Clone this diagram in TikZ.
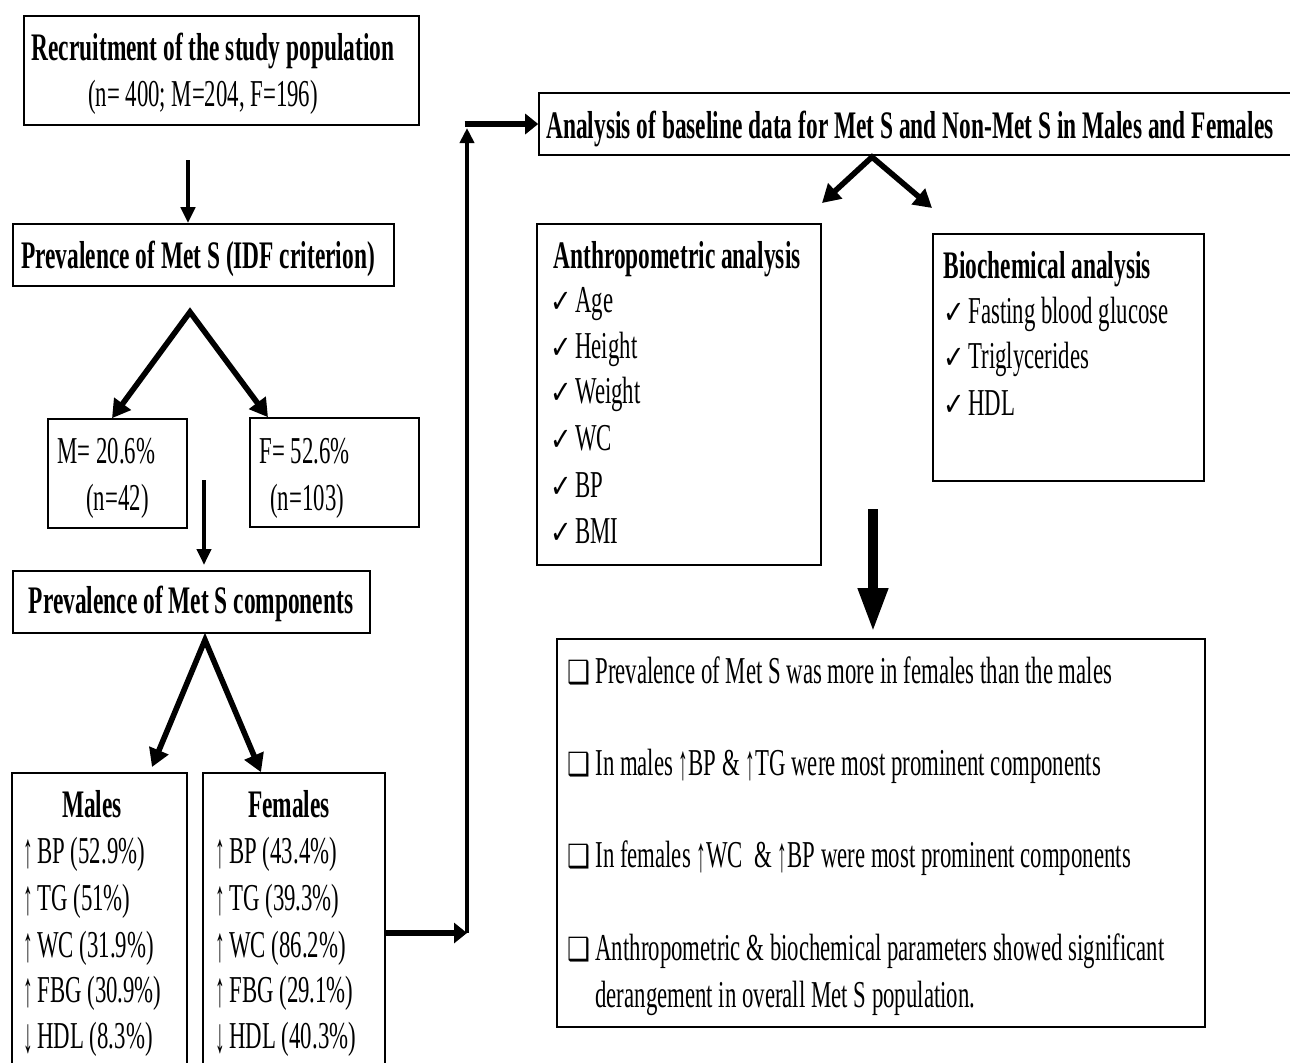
\documentclass[tikz,border=0pt]{standalone}
\usepackage{fontspec}
\usepackage{graphicx}
\setmainfont{Liberation Serif}[FakeStretch=0.6]
\newfontfamily\symf{DejaVu Sans}[FakeStretch=0.8]
\usetikzlibrary{arrows.meta,fit}
\newcommand\tarr[1]{\raisebox{-0.12em}{\scalebox{0.85}[1.3]{#1}}}
\newcommand\upa{\makebox[7pt][l]{\tarr{↑}}}
\newcommand\dna{\makebox[7pt][l]{\tarr{↓}}}
\newcommand\chk{\makebox[12.5pt][l]{\symf\fontsize{16}{18}\selectfont ✓}}
\newcommand\sqb{\makebox[14pt][l]{\symf\fontsize{16}{18}\selectfont ❑}}
\begin{document}
\begin{tikzpicture}[x=0.5pt,y=-0.5pt,
  box/.style={draw,line width=0.8pt,inner sep=0pt},
  reg/.style={inner sep=0pt,font=\fontsize{19}{22}\selectfont},
  ttl/.style={inner sep=0pt,font=\fontsize{19.5}{22}\selectfont\bfseries},
  thinarr/.style={line width=2pt,-{Triangle[length=8pt,width=7pt]}},
  fork/.style={line width=2.8pt,line join=miter,{Triangle[length=9pt,width=10pt]}-{Triangle[length=9pt,width=10pt]}},
  conh/.style={line width=3pt,-{Triangle[length=6.5pt,width=10pt]}},
  conv/.style={line width=2.4pt,-{Triangle[length=7.5pt,width=7pt]}},
  bigarr/.style={line width=5pt,-{Triangle[length=22pt,width=14pt]}}]
\useasboundingbox (0,0) rectangle (1290,1062);
\fill[white] (0,0) rectangle (1290,1062);

% boxes
\node[box,fit={(24,16) (419,125)}] (R) {};
\node[box,fit={(13,224) (394,286)}] (P) {};
\node[box,fit={(48,419) (187,528)}] (M) {};
\node[box,fit={(250,418) (419,527)}] (F) {};
\node[box,fit={(13,571) (370,633)}] (C) {};
\node[box,fit={(12,773) (187,1080)}] (Ma) {};
\node[box,fit={(203,773) (385,1080)}] (Fe) {};
\node[box,fit={(539,93) (1300,155)}] (A) {};
\node[box,fit={(537,224) (821,565)}] (An) {};
\node[box,fit={(933,234) (1204,481)}] (B) {};
\node[box,fit={(557,639) (1205,1027)}] (Co) {};

% texts left column
\node[ttl,anchor=base] (Rt1) at (213,60) {Recruitment of the study population};
\node[reg,anchor=base] (Rt2) at (203,106) {(n= 400; M=204, F=196)};
\node[ttl,anchor=base] (Pt) at (198,268) {Prevalence of Met S (IDF criterion)};
\node[reg,anchor=base west] (Mt1) at (57,463) {M= 20.6\%};
\node[reg,anchor=base west] (Mt2) at (86,510) {(n=42)};
\node[reg,anchor=base west] (Ft1) at (259,463) {F= 52.6\%};
\node[reg,anchor=base west] (Ft2) at (270,510) {(n=103)};
\node[ttl,anchor=base] (Ct) at (191,613) {Prevalence of Met S components};

\node[ttl,anchor=base] (Mah) at (92,817) {Males};
\node[reg,anchor=base west] (Ma1) at (23,863) {\upa BP (52.9\%)};
\node[reg,anchor=base west] (Ma2) at (23,910) {\upa TG (51\%)};
\node[reg,anchor=base west] (Ma3) at (23,957) {\upa WC (31.9\%)};
\node[reg,anchor=base west] (Ma4) at (23,1002) {\upa FBG (30.9\%)};
\node[reg,anchor=base west] (Ma5) at (23,1048) {\dna HDL (8.3\%)};

\node[ttl,anchor=base] (Feh) at (289,817) {Females};
\node[reg,anchor=base west] (Fe1) at (215,863) {\upa BP (43.4\%)};
\node[reg,anchor=base west] (Fe2) at (215,910) {\upa TG (39.3\%)};
\node[reg,anchor=base west] (Fe3) at (215,957) {\upa WC (86.2\%)};
\node[reg,anchor=base west] (Fe4) at (215,1002) {\upa FBG (29.1\%)};
\node[reg,anchor=base west] (Fe5) at (215,1048) {\dna HDL (40.3\%)};

% right column texts
\node[ttl,anchor=base] (At) at (910,138) {Analysis of baseline data for Met S and Non-Met S in Males and Females};
\node[ttl,anchor=base west] (Ant) at (553,268) {Anthropometric analysis};
\node[reg,anchor=base west] (An1) at (550,312) {\chk Age};
\node[reg,anchor=base west] (An2) at (550,358) {\chk Height};
\node[reg,anchor=base west] (An3) at (550,403) {\chk Weight};
\node[reg,anchor=base west] (An4) at (550,450) {\chk WC};
\node[reg,anchor=base west] (An5) at (550,497) {\chk BP};
\node[reg,anchor=base west] (An6) at (550,543) {\chk BMI};

\node[ttl,anchor=base west] (Bt) at (943,278) {Biochemical analysis};
\node[reg,anchor=base west] (B1) at (943,323) {\chk Fasting blood glucose};
\node[reg,anchor=base west] (B2) at (943,368) {\chk Triglycerides};
\node[reg,anchor=base west] (B3) at (943,415) {\chk HDL};

\node[reg,anchor=base west] (Co1) at (567,683) {\sqb Prevalence of Met S was more in females than the males};
\node[reg,anchor=base west] (Co2) at (567,775) {\sqb In males \tarr{↑}BP \& \tarr{↑}TG were most prominent components};
\node[reg,anchor=base west] (Co3) at (567,867) {\sqb In females \tarr{↑}WC\ \ \& \tarr{↑}BP were most prominent components};
\node[reg,anchor=base west] (Co4) at (567,960) {\sqb Anthropometric \& biochemical parameters showed significant};
\node[reg,anchor=base west] (Co5) at (595,1007) {derangement in overall Met S population.};

% connectors
\coordinate (a1) at (188,160);
\draw[thinarr] (a1) -- (a1 |- P.north);
\coordinate (ap1) at (190,312);
\draw[fork] (112,0 |- M.north) -- (ap1) -- (268,0 |- F.north);
\coordinate (a2) at (204,480);
\draw[thinarr] (a2) -- (204,565);
\coordinate (ap2) at (205,640);
\draw[fork] (152,767) -- (ap2) -- (261,0 |- Fe.north);
\coordinate (j1) at (467,933);
\coordinate (j2) at (467,124);
\draw[conh] (Fe.east |- j1) -- (j1);
\draw[conv] (j1) -- (467,128);
\draw[conh] ([xshift=-1.2pt]j2) -- (j2 -| A.west);
\coordinate (ap3) at (872,157);
\draw[fork] (822,203) -- (ap3) -- (932,208);
\coordinate (a3) at (873,509);
\draw[bigarr] (a3) -- (873,632);
\end{tikzpicture}
\end{document}
